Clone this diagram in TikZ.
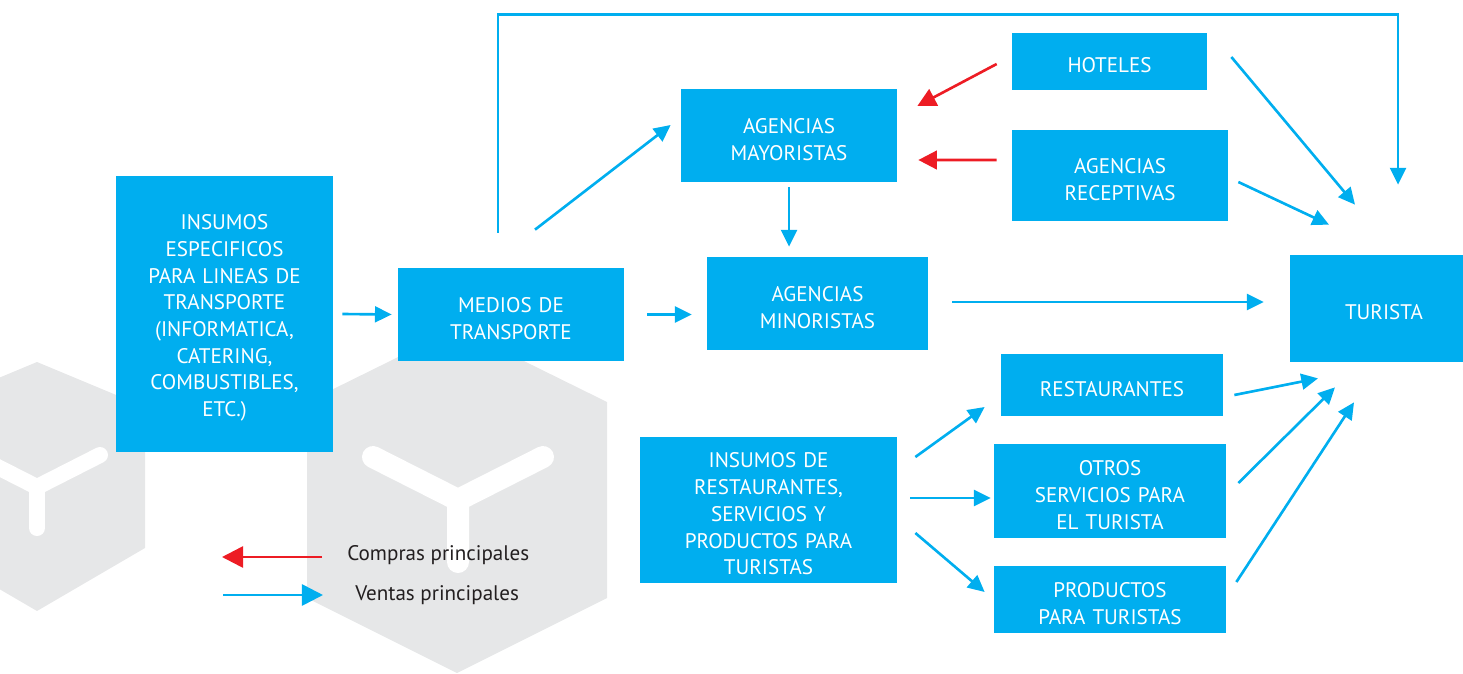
\documentclass[tikz,border=0pt]{standalone}
\usepackage{fontspec}
\setmainfont{PT Sans}
\usetikzlibrary{arrows.meta,positioning}

\definecolor{tblue}{HTML}{00AEEF}
\definecolor{tred}{HTML}{ED1C24}
\definecolor{hexgrey}{HTML}{E6E7E8}
\definecolor{legtext}{HTML}{231F20}

\begin{document}
\begin{tikzpicture}[
  x=0.02cm, y=-0.02cm,
  box/.style 2 args={
    rectangle,
    fill=tblue,
    text=white,
    inner sep=0pt,
    text width=#1*0.02cm,
    minimum height=#2*0.02cm,
    font=\fontsize{12}{15.2}\selectfont,
    execute at begin node={\rule{0pt}{13pt}},
    align=center
  },
  flow/.style={-{Triangle[length=9.5pt,width=9pt]}, line width=1.5pt, draw=tblue},
  buy/.style={-{Triangle[length=10.5pt,width=10.5pt]}, line width=1.5pt, draw=tred},
  legend/.style={font=\fontsize{12}{14}\selectfont, text=legtext, anchor=west, inner sep=0pt},
  cube/.style={fill=hexgrey},
  ybar/.style={draw=white, line cap=round, line join=round}
]

\useasboundingbox (0,0) rectangle (1463,673);

\begin{scope}
  \clip (0,0) rectangle (1463,673);
  \fill[cube] (37,362) -- (145,407) -- (145,548) -- (37,611) -- (-71,548) -- (-71,407) -- cycle;
  \fill[cube] (457,328) -- (607,402) -- (607,598) -- (457,673) -- (307,598) -- (307,402) -- cycle;
  \draw[ybar, line width=0.32cm] (-26,455) -- (37,487) -- (100,455) (37,487) -- (37,528);
  \draw[ybar, line width=0.44cm] (373,457) -- (458,500) -- (543,457) (458,500) -- (458,562);
\end{scope}

\node[box={217}{276}] (insesp) at (224.5,314) {INSUMOS\\ESPECIFICOS\\PARA LINEAS DE\\TRANSPORTE\\(INFORMATICA,\\CATERING,\\COMBUSTIBLES,\\ETC.)};
\node[box={226}{93}] (medios) at (511,314.5) {MEDIOS DE\\TRANSPORTE};
\node[box={216}{93}] (mayor) at (789,135.5) {AGENCIAS\\MAYORISTAS};
\node[box={221}{93}] (minor) at (817.5,303.5) {AGENCIAS\\MINORISTAS};
\node[box={195}{57}] (hoteles) at (1109.5,61.5) {HOTELES};
\node[box={216}{91}] (recept) at (1120,175.5) {AGENCIAS\\RECEPTIVAS};
\node[box={173}{107}] (turista) at (1376.5,308.5) {\hspace*{0.3cm}TURISTA};
\node[box={222}{62}] (rest) at (1112,385) {RESTAURANTES};
\node[box={232}{94}] (otros) at (1110,491) {OTROS\\SERVICIOS PARA\\EL TURISTA};
\node[box={232}{67}] (prod) at (1110,599.5) {PRODUCTOS\\PARA TURISTAS};
\node[box={257}{146}] (insrest) at (768.5,510) {INSUMOS DE\\RESTAURANTES,\\SERVICIOS Y\\PRODUCTOS PARA\\TURISTAS};

\node[legend] (compras) at (347,555) {Compras principales};
\node[legend] (ventas) at (355,595) {Ventas principales};

\draw[flow] ([shift={(9,0)}]insesp.east) -- ([shift={(-6,0)}]medios.west);
\draw[flow] ([shift={(23,0)}]medios.east) -- ([shift={(-15,11)}]minor.west);
\draw[flow] ([shift={(24,-38)}]medios.north) -- ([shift={(-10,-10.5)}]mayor.west);
\draw[flow] ([shift={(-13,-35)}]medios.north) -- ++(0,-218) -| ([shift={(21.5,-70)}]turista.north);
\draw[flow] ([shift={(0,5)}]mayor.south) -- ([shift={(-28.5,-10)}]minor.north);
\draw[flow] ([shift={(24,-1.5)}]minor.east) -- ([shift={(-26,-6.5)}]turista.west);

\draw[buy] ([shift={(-15,2.5)}]hoteles.west) -- ([shift={(20,-29.5)}]mayor.east);
\draw[buy] ([shift={(-15,-15.5)}]recept.west) -- ([shift={(21,24.5)}]mayor.east);

\draw[flow] ([shift={(24,-4.5)}]hoteles.east) -- ([shift={(-21.5,-50)}]turista.north);
\draw[flow] ([shift={(10,6.5)}]recept.east) -- ([shift={(-47.5,-30)}]turista.north);
\draw[flow] ([shift={(11,10)}]rest.east) -- ([shift={(-58.5,16)}]turista.south);
\draw[flow] ([shift={(12,-8)}]otros.east) -- ([shift={(-41.5,25)}]turista.south);
\draw[flow] ([shift={(10,-17.5)}]prod.east) -- ([shift={(-22.5,40)}]turista.south);

\draw[flow] ([shift={(18,-53)}]insrest.east) -- ([shift={(-16,22)}]rest.west);
\draw[flow] ([shift={(13,-12)}]insrest.east) -- ([shift={(-3,7)}]otros.west);
\draw[flow] ([shift={(18,23)}]insrest.east) -- ([shift={(-9,-7.5)}]prod.west);

\draw[buy, -{Triangle[length=12pt,width=12pt]}] ([shift={(-25,2)}]compras.west) -- ++(-100,0);
\draw[flow, -{Triangle[length=12pt,width=12pt]}] ([shift={(-132,0)}]ventas.west) -- ++(100,0);

\end{tikzpicture}
\end{document}
